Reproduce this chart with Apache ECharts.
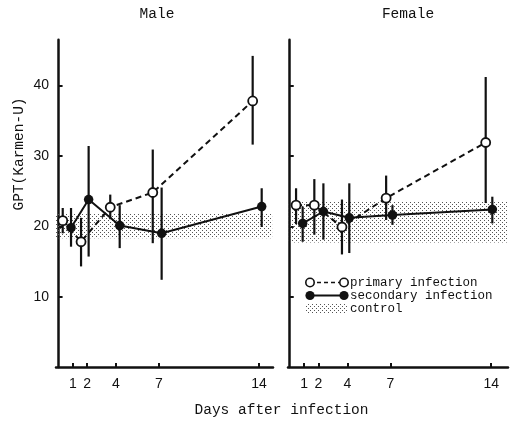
<!DOCTYPE html>
<html>
<head>
<meta charset="utf-8">
<script src="https://cdn.jsdelivr.net/npm/echarts@6/dist/echarts.min.js"></script>
<style>html,body{margin:0;padding:0;background:#fff;}#c{width:514px;height:421px;}</style>
</head>
<body>
<div id="c"></div>
<script>
// ---- data ----
var xTickDays = [1, 2, 4, 7, 14];
var yTickValues = [10, 20, 30, 40];

var maleDaysPrimary   = [0.29, 1.57, 3.61, 6.58, 13.56];
var malePrimaryMean   = [20.8, 17.8, 22.7, 24.8, 37.8];
var malePrimaryLow    = [19.0, 14.3, 21.0, 17.6, 31.6];
var malePrimaryHigh   = [22.6, 21.2, 24.5, 30.9, 44.2];
var maleDaysSecondary = [0.87, 2.10, 4.27, 7.20, 14.19];
var maleSecondaryMean = [19.8, 23.8, 20.1, 19.0, 22.8];
var maleSecondaryLow  = [17.1, 15.7, 16.9, 12.4, 19.9];
var maleSecondaryHigh = [22.6, 31.4, 23.0, 25.5, 25.4];
var maleControl       = [18.3, 21.9];
var maleControlDays   = [-0.18, 14.92];

var femaleDaysPrimary   = [0.44, 1.71, 3.63, 6.70, 13.62];
var femalePrimaryMean   = [23.0, 23.0, 19.9, 24.0, 31.9];
var femalePrimaryLow    = [20.3, 18.8, 16.0, 20.9, 23.3];
var femalePrimaryHigh   = [25.4, 26.7, 23.8, 27.2, 41.2];
var femaleDaysSecondary = [0.90, 2.34, 4.14, 7.14, 14.08];
var femaleSecondaryMean = [20.4, 22.1, 21.2, 21.6, 22.4];
var femaleSecondaryLow  = [17.8, 18.1, 16.2, 20.2, 20.4];
var femaleSecondaryHigh = [22.8, 26.1, 26.1, 23.0, 24.2];
var femaleControl       = [17.7, 23.5];
var femaleControlDays   = [-0.12, 15.17];

var panelTitles = ['Male', 'Female'];
var yName = 'GPT(Karmen-U)';
var xName = 'Days after infection';
var legendTexts = ['primary infection', 'secondary infection', 'control'];

// ---- helpers ----
var MONO = '"Liberation Mono", "DejaVu Sans Mono", monospace';
var SANS = '"Liberation Sans", Arial, sans-serif';

function makePattern() {
  var cv = document.createElement('canvas');
  cv.width = 4; cv.height = 4;
  var ctx = cv.getContext('2d');
  ctx.fillStyle = '#555555';
  [[0,0],[2,2]].forEach(function(p){ ctx.fillRect(p[0], p[1], 1, 1); });
  return { image: cv, repeat: 'repeat' };
}
var pattern = makePattern();

function zip(a, b) { return a.map(function(v, i){ return [v, b[i]]; }); }
function zip3(a, b, c) { return a.map(function(v, i){ return [v, b[i], c[i]]; }); }

function errSeries(idx, days, low, high) {
  return {
    type: 'custom', xAxisIndex: idx, yAxisIndex: idx, z: 2,
    encode: { x: 0, y: [1, 2] },
    data: zip3(days, low, high),
    renderItem: function(params, api) {
      var a = api.coord([api.value(0), api.value(1)]);
      var b = api.coord([api.value(0), api.value(2)]);
      return { type: 'line', shape: { x1: a[0], y1: a[1], x2: b[0], y2: b[1] },
               style: { stroke: '#111', lineWidth: 2.2 } };
    },
    silent: true
  };
}

function lineSeries(idx, days, mean, primary) {
  return {
    type: 'line', xAxisIndex: idx, yAxisIndex: idx,
    z: primary ? 4 : 3,
    data: zip(days, mean),
    symbol: 'circle', symbolSize: primary ? 9 : 9.5,
    itemStyle: primary ? { color: '#fff', borderColor: '#111', borderWidth: 1.8 } : { color: '#111' },
    lineStyle: { color: '#111', width: 2, type: primary ? [6, 4] : 'solid' },
    animation: false, silent: true
  };
}

function controlSeries(idx, band, days) {
  return {
    type: 'line', xAxisIndex: idx, yAxisIndex: idx, data: [], z: 1,
    markArea: {
      silent: true,
      itemStyle: { color: pattern },
      data: [[{ xAxis: days[0], yAxis: band[0] }, { xAxis: days[1], yAxis: band[1] }]]
    }
  };
}

function xAxisCfg(idx, min, max) {
  return {
    type: 'value', gridIndex: idx, min: min, max: max,
    splitLine: { show: false },
    axisLine: { show: true, lineStyle: { color: '#111', width: 2.5 } },
    axisTick: { show: true, inside: true, length: 4, lineStyle: { color: '#111', width: 2 }, customValues: xTickDays },
    axisLabel: { show: true, customValues: xTickDays, color: '#111', fontFamily: SANS, fontSize: 14, margin: 10 }
  };
}
function yAxisCfg(idx, showLabels) {
  return {
    type: 'value', gridIndex: idx, min: 0, max: 46.5,
    splitLine: { show: false },
    axisLine: { show: true, lineStyle: { color: '#111', width: 2.5 } },
    axisTick: { show: true, inside: true, length: 4, lineStyle: { color: '#111', width: 2 }, customValues: yTickValues },
    axisLabel: { show: showLabels, customValues: yTickValues, color: '#111', fontFamily: SANS, fontSize: 14, margin: 7 }
  };
}

var chart = echarts.init(document.getElementById('c'), null, { renderer: 'canvas' });

var legendGraphic = {
  type: 'group',
  children: [
    { type: 'line', shape: { x1: 310, y1: 282.5, x2: 344, y2: 282.5 }, style: { stroke: '#111', lineWidth: 1.6, lineDash: [4, 3] } },
    { type: 'circle', shape: { cx: 310, cy: 282.5, r: 4.2 }, style: { fill: '#fff', stroke: '#111', lineWidth: 1.6 } },
    { type: 'circle', shape: { cx: 344, cy: 282.5, r: 4.2 }, style: { fill: '#fff', stroke: '#111', lineWidth: 1.6 } },
    { type: 'line', shape: { x1: 310, y1: 295.5, x2: 344, y2: 295.5 }, style: { stroke: '#111', lineWidth: 2 } },
    { type: 'circle', shape: { cx: 310, cy: 295.5, r: 4.6 }, style: { fill: '#111' } },
    { type: 'circle', shape: { cx: 344, cy: 295.5, r: 4.6 }, style: { fill: '#111' } },
    { type: 'rect', shape: { x: 306, y: 304, width: 41, height: 9 }, style: { fill: pattern } },
    { type: 'text', x: 350, y: 282.5, style: { text: legendTexts[0], font: '12.5px ' + MONO, fill: '#111', verticalAlign: 'middle' } },
    { type: 'text', x: 350, y: 295.5, style: { text: legendTexts[1], font: '12.5px ' + MONO, fill: '#111', verticalAlign: 'middle' } },
    { type: 'text', x: 350, y: 308.5, style: { text: legendTexts[2], font: '12.5px ' + MONO, fill: '#111', verticalAlign: 'middle' } }
  ]
};

var option = {
  animation: false,
  backgroundColor: '#fff',
  grid: [
    { left: 56, top: 39.7, width: 217, height: 327.4 },
    { left: 288, top: 39.7, width: 220, height: 327.4 }
  ],
  xAxis: [ xAxisCfg(0, -0.18, 14.98), xAxisCfg(1, -0.12, 15.17) ],
  yAxis: [ yAxisCfg(0, true), yAxisCfg(1, false) ],
  graphic: [
    { type: 'text', x: 157, y: 14, style: { text: panelTitles[0], font: '14.5px ' + MONO, fill: '#111', align: 'center', verticalAlign: 'middle' } },
    { type: 'text', x: 408, y: 14, style: { text: panelTitles[1], font: '14.5px ' + MONO, fill: '#111', align: 'center', verticalAlign: 'middle' } },
    { type: 'text', x: 19, y: 154, rotation: Math.PI / 2, style: { text: yName, font: '14.5px ' + MONO, fill: '#111', align: 'center', verticalAlign: 'middle' } },
    { type: 'text', x: 281.5, y: 410, style: { text: xName, font: '14.5px ' + MONO, fill: '#111', align: 'center', verticalAlign: 'middle' } },
    legendGraphic
  ],
  series: [
    controlSeries(0, maleControl, maleControlDays),
    errSeries(0, maleDaysPrimary, malePrimaryLow, malePrimaryHigh),
    errSeries(0, maleDaysSecondary, maleSecondaryLow, maleSecondaryHigh),
    lineSeries(0, maleDaysSecondary, maleSecondaryMean, false),
    lineSeries(0, maleDaysPrimary, malePrimaryMean, true),
    controlSeries(1, femaleControl, femaleControlDays),
    errSeries(1, femaleDaysPrimary, femalePrimaryLow, femalePrimaryHigh),
    errSeries(1, femaleDaysSecondary, femaleSecondaryLow, femaleSecondaryHigh),
    lineSeries(1, femaleDaysSecondary, femaleSecondaryMean, false),
    lineSeries(1, femaleDaysPrimary, femalePrimaryMean, true)
  ]
};
chart.setOption(option);
</script>
</body>
</html>
